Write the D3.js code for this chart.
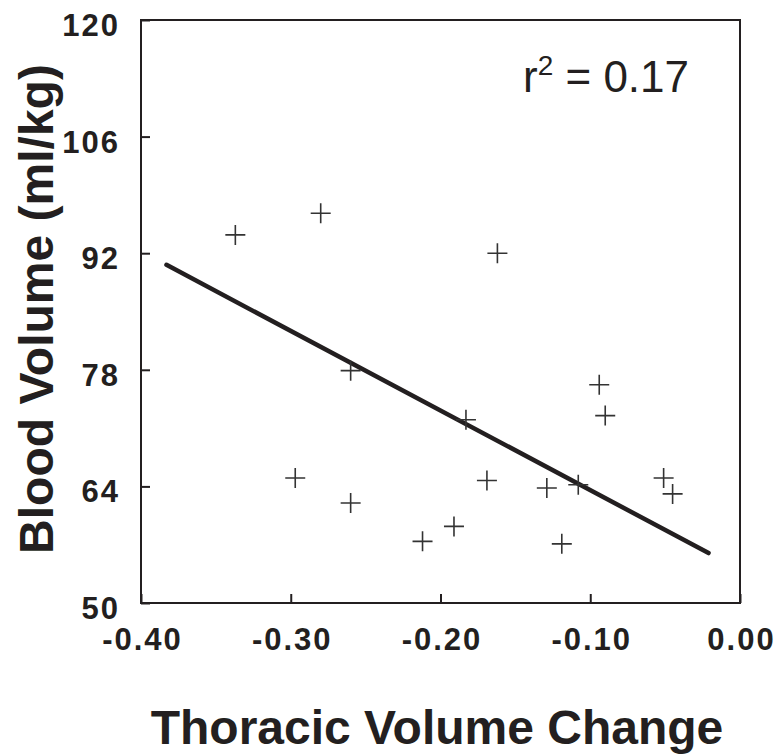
<!DOCTYPE html>
<html>
<head>
<meta charset="utf-8">
<script src="https://cdn.jsdelivr.net/npm/d3@7"></script>
<style>
  html, body { margin: 0; padding: 0; background: #fff; }
  svg { display: block; font-family: "Liberation Sans", Arial, Helvetica, sans-serif; }
</style>
</head>
<body>
<svg width="778" height="756"></svg>
<script>
// thoracic volume change vs blood volume, with fitted line
var thoracicChange = [-0.337, -0.280, -0.162, -0.260, -0.183, -0.090, -0.094, -0.051, -0.045,
                      -0.169, -0.129, -0.108, -0.191, -0.212, -0.119, -0.297, -0.260];
var bloodVolume    = [94.2, 96.8, 92.0, 77.9, 72.0, 72.5, 76.2, 65.0, 63.1,
                      64.7, 63.8, 64.2, 59.2, 57.4, 57.1, 65.0, 62.0];

var fitX = [-0.383, -0.021];
var fitY = [90.6, 56.0];

var xTicks = [-0.40, -0.30, -0.20, -0.10, 0.00];
var xTickLabels = ["-0.40", "-0.30", "-0.20", "-0.10", "0.00"];
var yTicks = [50, 64, 78, 92, 106, 120];

var xTitle = "Thoracic Volume Change";
var yTitle = "Blood Volume (ml/kg)";
var rSquared = "0.17";

window.onload = function(){ drawChart() }
function drawChart() {
    var svg = d3.select("svg");
    var ink = "#231f20";

    var x = d3.scaleLinear().domain([-0.4, 0]).range([141, 740]);
    var y = d3.scaleLinear().domain([50, 120]).range([603, 20]);

    // axes, ticks pointing inwards
    var xAxis = d3.axisBottom(x)
        .tickValues(xTicks)
        .tickSizeInner(-9)
        .tickSizeOuter(0)
        .tickPadding(25)
        .tickFormat(function (d, i) { return xTickLabels[i]; });

    var yAxis = d3.axisLeft(y)
        .tickValues(yTicks)
        .tickSizeInner(-9)
        .tickSizeOuter(0)
        .tickPadding(21);

    var gx = svg.append("g")
        .attr("transform", "translate(0," + y(50) + ")")
        .call(xAxis);
    var gy = svg.append("g")
        .attr("transform", "translate(" + x(-0.4) + ",0)")
        .call(yAxis);

    [gx, gy].forEach(function (g) {
        g.select(".domain").remove();
        g.selectAll(".tick line").attr("stroke", ink).attr("stroke-width", 2);
        g.selectAll(".tick text")
            .attr("fill", ink)
            .style("font-size", "31px")
            .style("font-weight", "bold")
            .style("letter-spacing", "2px");
    });
    gy.selectAll(".tick text").attr("dy", "0.5em");
    gx.selectAll(".tick text").attr("dx", "1px");

    // frame
    svg.append("rect")
        .attr("x", x(-0.4))
        .attr("y", y(120))
        .attr("width", x(0) - x(-0.4))
        .attr("height", y(50) - y(120))
        .attr("fill", "none")
        .attr("stroke", ink)
        .attr("stroke-width", 2);

    // fitted line
    svg.append("line")
        .attr("x1", x(fitX[0])).attr("y1", y(fitY[0]))
        .attr("x2", x(fitX[1])).attr("y2", y(fitY[1]))
        .attr("stroke", ink)
        .attr("stroke-width", 4.5)
        .attr("stroke-linecap", "round");

    // data points as plus markers
    var pts = thoracicChange.map(function (d, i) { return { tx: d, bv: bloodVolume[i] }; });
    svg.append("g")
        .selectAll("path")
        .data(pts)
        .enter().append("path")
        .attr("d", function (d) {
            var cx = x(d.tx), cy = y(d.bv), h = 10;
            return "M" + (cx - h) + "," + cy + "H" + (cx + h) + "M" + cx + "," + (cy - h) + "V" + (cy + h);
        })
        .attr("stroke", "#333")
        .attr("stroke-width", 1.6)
        .attr("fill", "none");

    // r squared annotation
    var rt = svg.append("text")
        .attr("x", 523)
        .attr("y", 92)
        .attr("fill", ink)
        .style("font-size", "44px");
    rt.append("tspan").text("r");
    rt.append("tspan").attr("dy", "-17").style("font-size", "28px").text("2");
    rt.append("tspan").attr("dy", "17").text(" = " + rSquared);

    // axis titles
    svg.append("text")
        .attr("x", 437)
        .attr("y", 744)
        .attr("text-anchor", "middle")
        .attr("fill", ink)
        .style("font-size", "48px")
        .style("font-weight", "bold")
        .text(xTitle);

    svg.append("text")
        .attr("transform", "translate(53,309) rotate(-90)")
        .attr("text-anchor", "middle")
        .attr("fill", ink)
        .style("font-size", "48px")
        .style("font-weight", "bold")
        .text(yTitle);
}
</script>
</body>
</html>
